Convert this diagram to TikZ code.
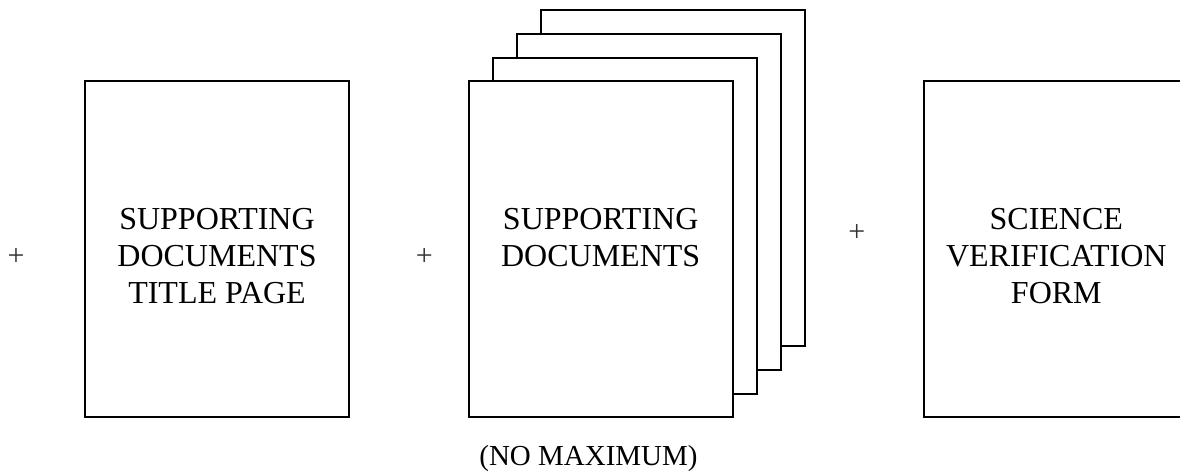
\documentclass[tikz,border=0pt]{standalone}
\usepackage{fontspec}
\setmainfont{Liberation Serif}
\begin{document}
\begin{tikzpicture}[x=1pt,y=-1pt,
  page/.style={draw=black,line width=2pt,fill=white,minimum width=264pt,minimum height=336pt,inner sep=0pt,outer sep=0pt},
  boxtext/.style={anchor=north,inner sep=0pt,align=center,font=\fontsize{32}{36.7}\selectfont},
  plus/.style={inner sep=0pt,font=\fontsize{30}{34}\selectfont,text=black!80},
  note/.style={anchor=base,inner sep=0pt,font=\fontsize{29}{33}\selectfont}]
\useasboundingbox (0,0) rectangle (1180,475);
\clip (0,0) rectangle (1180,475);
% first box
\node[page] (title) at (217,249.4) {};
\node[boxtext] (titletext) at (217,208.5) {SUPPORTING\\DOCUMENTS\\TITLE PAGE};
% stacked pages
\node[page] (p4) at (672.7,177.7) {};
\node[page] (p3) at (648.7,201.6) {};
\node[page] (p2) at (624.7,225.5) {};
\node[page] (p1) at (600.7,249.4) {};
\node[boxtext] (stacktext) at (600.7,208.5) {SUPPORTING\\DOCUMENTS};
\node[note] (nomax) at (588.5,465) {(NO MAXIMUM)};
% third box
\node[page] (svf) at (1056.3,249.4) {};
\node[boxtext] (svftext) at (1056.3,208.5) {SCIENCE\\VERIFICATION\\FORM};
% plus signs
\node[plus] (plusa) at (16,256.7) {+};
\node[plus] (plusb) at (424.3,256.7) {+};
\node[plus] (plusc) at (856.7,232.7) {+};
\end{tikzpicture}
\end{document}
